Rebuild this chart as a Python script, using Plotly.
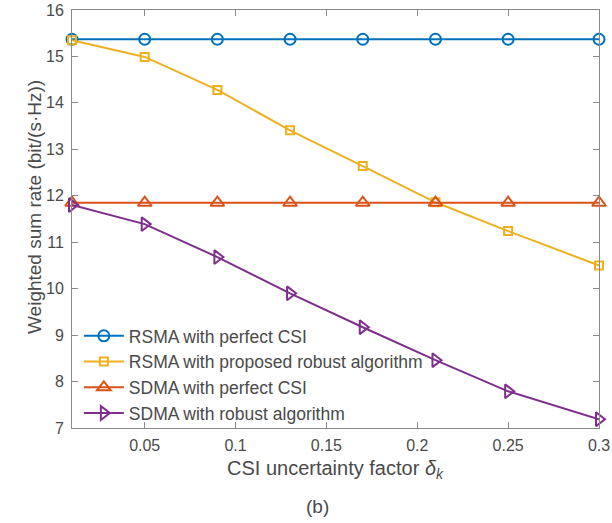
import plotly.graph_objects as go

delta = [0.01, 0.05, 0.09, 0.13, 0.17, 0.21, 0.25, 0.30]
rsma_perfect = [15.37, 15.37, 15.37, 15.37, 15.37, 15.37, 15.37, 15.37]
rsma_robust = [15.35, 14.99, 14.28, 13.41, 12.64, 11.86, 11.24, 10.50]
sdma_perfect = [11.85, 11.85, 11.85, 11.85, 11.85, 11.85, 11.85, 11.85]
sdma_robust = [11.80, 11.39, 10.68, 9.90, 9.17, 8.46, 7.79, 7.19]

x_ticks = [0.05, 0.1, 0.15, 0.2, 0.25, 0.3]
y_ticks = [7, 8, 9, 10, 11, 12, 13, 14, 15, 16]

series = [
    ("RSMA with perfect CSI", rsma_perfect, "#0072BD", "circle-open", 11),
    ("RSMA with proposed robust algorithm", rsma_robust, "#EDB120", "square-open", 8),
    ("SDMA with perfect CSI", sdma_perfect, "#D95319", "triangle-up-open", 12),
    ("SDMA with robust algorithm", sdma_robust, "#7E2F8E", "triangle-right-open", 12),
]

fig = go.Figure()
for name, ys, color, sym, sz in series:
    fig.add_trace(go.Scatter(
        x=delta, y=ys, name=name, mode="lines+markers",
        line=dict(color=color, width=2),
        marker=dict(symbol=sym, size=sz, color=color, line=dict(color=color, width=2)),
        cliponaxis=False,
    ))

axis_color = "#8a8a8a"
text_color = "#4a4a4a"
font_family = "Liberation Sans, Arial, sans-serif"

fig.update_layout(
    width=612, height=523,
    margin=dict(l=72, r=13, t=10, b=95, autoexpand=False),
    paper_bgcolor="white", plot_bgcolor="white",
    font=dict(family=font_family, color=text_color, size=16),
    showlegend=True,
    legend=dict(
        x=0.013, y=-0.007, xanchor="left", yanchor="bottom",
        bgcolor="rgba(0,0,0,0)", borderwidth=0,
        font=dict(size=17.5, color=text_color),
        tracegroupgap=0, itemwidth=40,
    ),
    xaxis=dict(
        range=[0.01, 0.3], tickvals=x_ticks, ticktext=[str(v) for v in x_ticks],
        showgrid=False, zeroline=False, automargin=False,
        showline=True, linecolor=axis_color, linewidth=1, mirror="ticks",
        ticks="inside", ticklen=6, tickcolor=axis_color,
        tickfont=dict(size=16, color=text_color), ticklabelstandoff=3,
    ),
    yaxis=dict(
        range=[7, 16], tickvals=y_ticks,
        showgrid=False, zeroline=False, automargin=False,
        showline=True, linecolor=axis_color, linewidth=1, mirror="ticks",
        ticks="inside", ticklen=6, tickcolor=axis_color,
        tickfont=dict(size=16, color=text_color), ticklabelstandoff=4,
    ),
    annotations=[
        dict(text="CSI uncertainty factor <i>δ<sub>k</sub></i>", xref="paper", yref="paper",
             x=0.5, y=-0.100, showarrow=False, xanchor="center", yanchor="middle",
             font=dict(size=20, color=text_color)),
        dict(text="Weighted sum rate (bit/(s·Hz))", xref="paper", yref="paper",
             x=-0.070, y=0.529, showarrow=False, xanchor="center", yanchor="middle",
             textangle=-90, font=dict(size=19, color=text_color)),
        dict(text="(b)", xref="paper", yref="paper", x=0.465, y=-0.187,
             showarrow=False, xanchor="center", yanchor="middle",
             font=dict(size=19, color=text_color)),
    ],
)

fig.write_html("out.html", config={"displayModeBar": False},
               post_script="document.body.style.margin='0px';")
